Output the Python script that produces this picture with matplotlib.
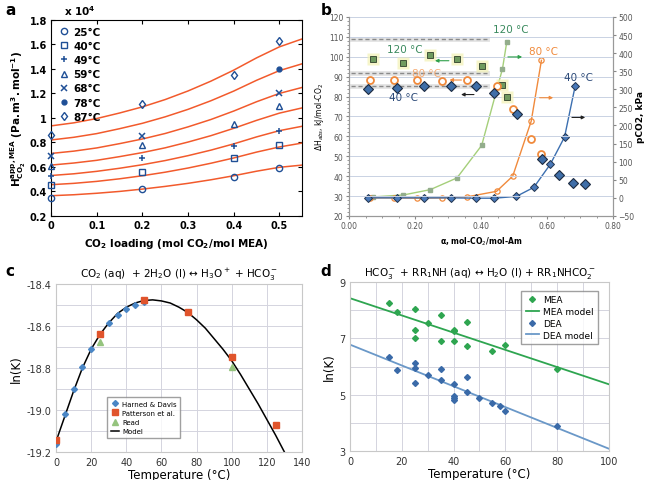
import matplotlib.pyplot as plt
import numpy as np
from matplotlib.ticker import FixedLocator, MultipleLocator, FormatStrFormatter, FuncFormatter

# ---------------- panel a data ----------------
a_x_curve = [0, 0.05, 0.1, 0.15, 0.2, 0.25, 0.3, 0.35, 0.4, 0.45, 0.5, 0.55]
a_curves = [
    [0.365, 0.373, 0.385, 0.400, 0.419, 0.441, 0.466, 0.495, 0.528, 0.565, 0.597, 0.615],
    [0.455, 0.466, 0.482, 0.503, 0.528, 0.557, 0.591, 0.630, 0.673, 0.721, 0.763, 0.795],
    [0.530, 0.544, 0.564, 0.589, 0.618, 0.652, 0.692, 0.737, 0.788, 0.845, 0.896, 0.932],
    [0.615, 0.632, 0.654, 0.684, 0.717, 0.756, 0.803, 0.855, 0.915, 0.980, 1.039, 1.082],
    [0.710, 0.729, 0.755, 0.790, 0.828, 0.873, 0.927, 0.987, 1.056, 1.132, 1.200, 1.249],
    [0.820, 0.842, 0.872, 0.912, 0.956, 1.009, 1.070, 1.140, 1.219, 1.307, 1.386, 1.442],
    [0.935, 0.960, 0.995, 1.040, 1.090, 1.150, 1.220, 1.300, 1.390, 1.490, 1.580, 1.645],
]
a_x_pts = [0, 0.2, 0.4, 0.5]
a_temps = ['25°C', '40°C', '49°C', '59°C', '68°C', '78°C', '87°C']
a_pts = [
    [0.35, 0.42, 0.52, 0.59],
    [0.45, 0.56, 0.675, 0.775],
    [0.53, 0.675, 0.77, 0.89],
    [0.61, 0.78, 0.95, 1.10],
    [0.69, 0.85, np.nan, 1.20],
    [np.nan, np.nan, np.nan, 1.40],
    [0.86, 1.11, 1.35, 1.63],
]
a_markers = ['o', 's', '+', '^', 'x', '.', 'd']

# ---------------- panel b data ----------------
b40_x = [0.057, 0.144, 0.227, 0.309, 0.385, 0.44, 0.507, 0.56, 0.61, 0.653, 0.685]
b40_p = [0, 0, 0, 0, -1, -1, 4, 29, 93, 168, 308]
b40_hx = [0.057, 0.144, 0.227, 0.309, 0.385, 0.439, 0.508, 0.586, 0.635, 0.68, 0.715]
b40_h = [84.0, 84.3, 85.3, 85.2, 85.3, 81.6, 71.4, 48.8, 40.4, 36.7, 35.9]

b80_x = [0.064, 0.137, 0.206, 0.281, 0.356, 0.447, 0.496, 0.552, 0.583]
b80_p = [0, 0, -1, 0, 2.5, 18, 60, 212, 380]
b80_h = [88.2, 88.2, 88.3, 87.8, 88.2, 85.3, 73.9, 58.9, 51.0]

b120_x = [0.072, 0.165, 0.246, 0.327, 0.402, 0.465, 0.478]
b120_p = [2.5, 8, 22.6, 55, 145, 357, 431]
b120_h = [99.0, 97.0, 100.7, 99.0, 95.4, 86.0, 79.8]

b_ref_levels = [109.1, 92.0, 85.3]

# ---------------- panel c data ----------------
c_hd_T = [0, 5, 10, 15, 20, 30, 35, 40, 45, 50]
c_hd_k = [-19.164, -19.021, -18.902, -18.793, -18.709, -18.585, -18.546, -18.519, -18.50, -18.487]
c_pat_T = [0, 25, 50, 75, 100, 125]
c_pat_k = [-19.142, -18.638, -18.476, -18.535, -18.745, -19.073]
c_read_T = [25, 100]
c_read_k = [-18.674, -18.796]
c_mod_T = [0, 5, 10, 15, 20, 25, 30, 35, 40, 45, 50, 55, 60, 65, 70, 75, 80,
           85, 90, 95, 100, 105, 110, 115, 120, 125, 130]
c_mod_k = [-19.15, -19.03, -18.91, -18.80, -18.71, -18.64, -18.585, -18.54, -18.51,
           -18.49, -18.478, -18.475, -18.48, -18.49, -18.51, -18.535, -18.57, -18.61,
           -18.66, -18.71, -18.765, -18.83, -18.90, -18.97, -19.045, -19.12, -19.20]

# ---------------- panel d data ----------------
d_mea_T = [15, 18, 25, 25, 25, 30, 35, 35, 40, 40, 40, 45, 45, 55, 60, 80]
d_mea_k = [8.27, 7.93, 8.04, 7.31, 7.01, 7.54, 7.82, 6.92, 7.31, 7.25, 6.90, 7.57, 6.73, 6.54, 6.78, 5.92]
d_dea_T = [15, 18, 25, 25, 25, 30, 35, 35, 40, 40, 40, 40, 45, 45, 50, 55, 58, 60, 80]
d_dea_k = [6.35, 5.89, 6.13, 5.96, 5.43, 5.69, 5.91, 5.52, 5.37, 4.94, 4.87, 4.80,
           5.64, 5.09, 4.88, 4.72, 4.59, 4.41, 3.88]
d_line_T = [0, 100]
d_mea_line = [8.43, 5.37]
d_dea_line = [6.78, 3.08]

fig = plt.figure(figsize=(6.49, 4.81), dpi=100)

# ======================= panel a =======================
ax = fig.add_axes([0.0786, 0.549, 0.387, 0.4075])
navy = '#1f4f96'
for ys in a_curves:
    ax.plot(a_x_curve, ys, color='#f25a2c', lw=1.1, zorder=2)
for lab, mk, ys in zip(a_temps, a_markers, a_pts):
    kw = dict(ls='none', marker=mk, color=navy, label=lab, zorder=3, clip_on=False)
    if mk in ['o', 's', '^', 'd']:
        kw.update(mfc='none', ms=4.5, mew=1.0)
    elif mk == '.':
        kw.update(ms=7)
    else:
        kw.update(ms=4.5, mew=1.1)
    ax.plot(a_x_pts, ys, **kw)
ax.set_xlim(0, 0.55)
ax.set_ylim(0.2, 1.8)
ax.set_xticks([0, 0.1, 0.2, 0.3, 0.4, 0.5])
ax.set_yticks([0.2, 0.4, 0.6, 0.8, 1.0, 1.2, 1.4, 1.6, 1.8])
fmt = FuncFormatter(lambda v, p: '%g' % round(v, 2))
ax.xaxis.set_major_formatter(fmt)
ax.yaxis.set_major_formatter(fmt)
ax.tick_params(direction='in', top=True, right=True, length=3, labelsize=7, pad=3)
for lbl in ax.get_xticklabels() + ax.get_yticklabels():
    lbl.set_fontweight('bold')
ax.set_xlabel(r'CO$_\mathbf{2}$ loading (mol CO$_\mathbf{2}$/mol MEA)', fontsize=7.5, fontweight='bold', labelpad=4)
ax.set_ylabel(r'$\mathbf{H^{app,MEA}_{CO_2}}$ $\mathbf{(Pa.m^3.mol^{-1})}$', fontsize=7.5, labelpad=1)
ax.text(0.05, 1.025, r'x 10$^\mathbf{4}$', transform=ax.transAxes, fontsize=7.5, fontweight='bold')
leg = ax.legend(loc='upper left', frameon=False, fontsize=7.5, handletextpad=0.3,
                labelspacing=0.4, borderaxespad=0.25, handlelength=1.2)
for t in leg.get_texts():
    t.set_fontweight('bold')

# ======================= panel b =======================
bx = fig.add_axes([0.5378, 0.549, 0.4068, 0.4137])
bx2 = bx.twinx()
bx.set_xlim(0, 0.8)
bx.set_ylim(20, 120)
bx2.set_ylim(-50, 500)
bx.set_zorder(2)
bx.patch.set_visible(False)
bx.set_yticks(np.arange(20, 121, 10))
bx.yaxis.set_minor_locator(MultipleLocator(2))
bx.set_xticks([0, 0.2, 0.4, 0.6, 0.8])
bx.xaxis.set_minor_locator(MultipleLocator(0.05))
bx.xaxis.set_major_formatter(FormatStrFormatter('%.2f'))
bx2.set_yticks(np.arange(-50, 501, 50))
bx.grid(axis='y', color='#c9d2e3', lw=0.7, zorder=0)
for a_ in (bx, bx2):
    a_.tick_params(labelsize=5.5, labelcolor='#555555', color='#888888', length=2.5, pad=1.5)
    for s in a_.spines.values():
        s.set_color('#999999')
    a_.spines['top'].set_visible(False)
bx.tick_params(which='minor', length=1.5, color='#888888')

# pCO2 curves (right axis)
bx2.plot(b120_x, b120_p, color='#a5cf7a', lw=1.0, marker='s', ms=3.5, mfc='#93ad8c', mec='#93ad8c', zorder=2)
bx2.plot(b80_x, b80_p, color='#f08a3c', lw=1.0, marker='o', ms=3.8, mfc='none', mec='#f08a3c', mew=0.9, zorder=2)
bx2.plot(b40_x, b40_p, color='#3c6fb0', lw=1.0, marker='D', ms=4, mfc='#4978b8', mec='#22344f', mew=0.7, zorder=3)

# reference levels
for lv in b_ref_levels:
    bx.plot([0.007, 0.418], [lv, lv], color='#d8d8d8', lw=3.5, alpha=0.7, zorder=1)
    bx.plot([0.007, 0.418], [lv, lv], color='#8a8a8a', lw=1.0, ls=(0, (3, 2)), zorder=1)

# heat of absorption (left axis)
bx.plot(b120_x, b120_h, ls='none', marker='s', ms=9, mfc='#f3f1b4', mec='none', alpha=0.7, zorder=3)
bx.plot(b120_x, b120_h, ls='none', marker='s', ms=5, mfc='#6f9a5e', mec='#2f3f2a', mew=0.6, zorder=4)
bx.plot(b80_x, b80_h, ls='none', marker='o', ms=5, mfc='white', mec='#f08a3c', mew=1.3, zorder=4)
bx.plot(b40_hx, b40_h, ls='none', marker='D', ms=5.5, mfc='#3f6ea8', mec='#1d2b40', mew=0.8, zorder=4)

# arrows
arrows = [((0.311, 98.0), (0.252, 98.0), '#2ea04a'),
          ((0.349, 88.3), (0.296, 88.3), '#f08a3c'),
          ((0.387, 81.0), (0.331, 81.0), '#222222'),
          ((0.473, 99.9), (0.533, 99.9), '#2ea04a'),
          ((0.569, 79.4), (0.627, 79.4), '#f08a3c'),
          ((0.667, 69.5), (0.724, 69.5), '#222222')]
for (x0, y0), (x1, y1), col in arrows:
    bx.annotate('', xy=(x1, y1), xytext=(x0, y0),
                arrowprops=dict(arrowstyle='-|>', color=col, lw=0.8, mutation_scale=5), zorder=5)

bx.text(0.17, 104, '120 °C', color='#3a8a5e', fontsize=7.5, ha='center', va='center', zorder=6)
bx.text(0.49, 114, '120 °C', color='#3a8a5e', fontsize=7.5, ha='center', va='center', zorder=6)
bx.text(0.235, 92, '80 °C', color='#f5a060', fontsize=7.5, ha='center', va='center', alpha=0.85, zorder=6)
bx.text(0.59, 103, '80 °C', color='#f08a3c', fontsize=7.5, ha='center', va='center', zorder=6)
bx.text(0.165, 80, '40 °C', color='#2c4a78', fontsize=7.5, ha='center', va='center', zorder=6)
bx.text(0.695, 90, '40 °C', color='#2c4a78', fontsize=7.5, ha='center', va='center', zorder=6)

bx.set_xlabel(r'α, mol-CO$_2$/mol-Am', fontsize=5.5, fontweight='bold', labelpad=3)
bx.set_ylabel(r'ΔH$_{abs}$, kJ/mol-CO$_2$', fontsize=5.5, labelpad=2)
bx2.set_ylabel('pCO2, kPa', fontsize=6.5, fontweight='bold', labelpad=1)

# ======================= panel c =======================
cx = fig.add_axes([0.0863, 0.0582, 0.379, 0.349])
cx.plot(c_mod_T, c_mod_k, color='black', lw=1.1, label='Model', zorder=2)
cx.plot(c_hd_T, c_hd_k, ls='none', marker='D', ms=3, color='#4a86c5', label='Harned & Davis', zorder=3)
cx.plot(c_pat_T, c_pat_k, ls='none', marker='s', ms=4.5, color='#e0542c', label='Patterson et al.', zorder=3)
cx.plot(c_read_T, c_read_k, ls='none', marker='^', ms=4.5, color='#95c47e', label='Read', zorder=3)
cx.set_xlim(0, 140)
cx.set_ylim(-19.2, -18.4)
cx.set_xticks(np.arange(0, 141, 20))
cx.set_yticks([-19.2, -19.0, -18.8, -18.6, -18.4])
cx.yaxis.set_minor_locator(MultipleLocator(0.1))
cx.yaxis.set_major_formatter(FormatStrFormatter('%.1f'))
cx.grid(True, which='both', color='#d4d4de', lw=0.7, zorder=0)
cx.tick_params(labelsize=7, length=0, which='both', colors='#333333')
for s in cx.spines.values():
    s.set_color('#c8c8c8')
cx.set_xlabel('Temperature (°C)', fontsize=8.5, labelpad=1)
cx.set_ylabel('ln(K)', fontsize=8.5, labelpad=2)
cx.set_title(r'CO$_2$ (aq)  + 2H$_2$O (l) ↔ H$_3$O$^+$ + HCO$_3^-$', fontsize=7.5, pad=5)
h, l = cx.get_legend_handles_labels()
order = [1, 2, 3, 0]
cx.legend([h[i] for i in order], [l[i] for i in order], loc='lower left',
          bbox_to_anchor=(0.195, 0.065), fontsize=5, frameon=True, fancybox=False,
          edgecolor='#888888', handlelength=1.2, handletextpad=0.4, labelspacing=0.45,
          borderpad=0.5)

# ======================= panel d =======================
dx = fig.add_axes([0.5393, 0.0603, 0.399, 0.351])
dx.plot(d_mea_T, d_mea_k, ls='none', marker='D', ms=3, color='#2ea550', label='MEA', zorder=3)
dx.plot(d_line_T, d_mea_line, color='#2ea550', lw=1.3, label='MEA model', zorder=2)
dx.plot(d_dea_T, d_dea_k, ls='none', marker='D', ms=3, color='#3a6aa8', label='DEA', zorder=3)
dx.plot(d_line_T, d_dea_line, color='#6a98c8', lw=1.3, label='DEA model', zorder=2)
dx.set_xlim(0, 100)
dx.set_ylim(3, 9)
dx.set_xticks(np.arange(0, 101, 20))
dx.xaxis.set_minor_locator(MultipleLocator(10))
dx.set_yticks([3, 5, 7, 9])
dx.yaxis.set_minor_locator(MultipleLocator(1))
dx.grid(True, which='both', color='#d4d4de', lw=0.7, zorder=0)
dx.tick_params(labelsize=7, length=0, which='both', colors='#333333')
for s in dx.spines.values():
    s.set_color('#c8c8c8')
dx.set_xlabel('Temperature (°C)', fontsize=8.5, labelpad=1)
dx.set_ylabel('ln(K)', fontsize=8.5, labelpad=2)
dx.set_title(r'HCO$_3^-$ + RR$_1$NH (aq) ↔ H$_2$O (l) + RR$_1$NHCO$_2^-$', fontsize=7.5, pad=5)
dx.legend(loc='upper right', bbox_to_anchor=(0.975, 0.975), fontsize=6.5, frameon=True,
          fancybox=False, edgecolor='#888888', handlelength=1.5, handletextpad=0.4,
          labelspacing=0.3, borderpad=0.5)

# panel letters
for lab, x, y in [('a', 0.008, 0.993), ('b', 0.494, 0.993), ('c', 0.008, 0.452), ('d', 0.494, 0.452)]:
    fig.text(x, y, lab, fontsize=11, fontweight='bold', va='top')

fig.savefig('out.png', dpi=100, facecolor='white')
